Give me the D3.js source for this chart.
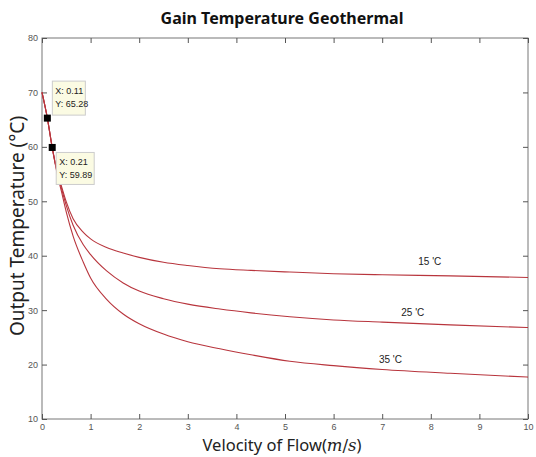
<!DOCTYPE html>
<html>
<head>
<meta charset="utf-8">
<script src="https://cdn.jsdelivr.net/npm/d3@7"></script>
<style>
  body { margin: 0; background: #fff; }
  .tick text { font-family: "Liberation Sans", Arial, sans-serif; font-size: 9px; fill: #555; }
</style>
</head>
<body>
<script>
// velocity of flow (m/s)
var velocity = [0, 0.11, 0.21, 0.3, 0.4, 0.5, 0.64, 0.85, 1.0, 1.33, 1.67, 2.0, 2.5, 3.0, 3.66, 4.3, 5.1, 6.0, 7.0, 8.4, 10];
// output temperature for each ground temperature
var temp15 = [70, 65.28, 59.89, 55.9, 52.8, 49.9, 46.8, 44.3, 43.1, 41.5, 40.5, 39.7, 38.8, 38.2, 37.6, 37.3, 37.0, 36.7, 36.5, 36.3, 36.0];
var temp25 = [70, 65.28, 59.89, 55.8, 52.4, 49.2, 45.6, 42.0, 40.2, 37.2, 35.0, 33.5, 32.1, 31.1, 30.2, 29.5, 28.8, 28.2, 27.8, 27.3, 26.8];
var temp35 = [70, 65.28, 59.89, 55.6, 51.8, 48.0, 43.6, 38.8, 35.9, 32.0, 29.3, 27.5, 25.6, 24.2, 22.9, 21.8, 20.6, 19.8, 19.1, 18.4, 17.7];
var seriesNames = ["15 'C", "25 'C", "35 'C"];
var labelPos = [[7.98, 38.3], [7.63, 28.9], [7.17, 20.3]];
var xTicks = [0,1,2,3,4,5,6,7,8,9,10];
var yTicks = [10,20,30,40,50,60,70,80];
// data tips
var tips = [{x:0.11, y:65.28}, {x:0.21, y:59.89}];

var W = 536, H = 457;
var mLeft = 42, mRight = 528, mTop = 38, mBottom = 419;

var svg = d3.select('body').append('svg').attr('width', W).attr('height', H);

var xScale = d3.scaleLinear().domain([0, 10]).range([mLeft, mRight]);
var yScale = d3.scaleLinear().domain([10, 80]).range([mBottom, mTop]);

// frame
svg.append('rect').attr('x', mLeft).attr('y', mTop)
  .attr('width', mRight - mLeft).attr('height', mBottom - mTop)
  .attr('fill', 'none').attr('stroke', '#777').attr('stroke-width', 1);

// axes, ticks inward, MATLAB style box
var xAxis = d3.axisBottom(xScale).tickValues(xTicks).tickSize(-5).tickPadding(5);
var yAxis = d3.axisLeft(yScale).tickValues(yTicks).tickSize(-5).tickPadding(4);
var gx = svg.append('g').attr('transform', 'translate(0,' + mBottom + ')').call(xAxis);
var gy = svg.append('g').attr('transform', 'translate(' + mLeft + ',0)').call(yAxis);
var gxt = svg.append('g').attr('transform', 'translate(0,' + mTop + ')')
  .call(d3.axisTop(xScale).tickValues(xTicks).tickSize(-5).tickFormat(''));
var gyr = svg.append('g').attr('transform', 'translate(' + mRight + ',0)')
  .call(d3.axisRight(yScale).tickValues(yTicks).tickSize(-5).tickFormat(''));
[gx, gy, gxt, gyr].forEach(function(g){
  g.select('.domain').remove();
  g.selectAll('.tick line').attr('stroke', '#555');
});

// curves
var line = d3.line().curve(d3.curveMonotoneX)
  .x(function(d){ return xScale(d[0]); })
  .y(function(d){ return yScale(d[1]); });
[temp15, temp25, temp35].forEach(function(s, i){
  var pts = velocity.map(function(v, j){ return [v, s[j]]; });
  svg.append('path').datum(pts).attr('d', line)
    .attr('fill', 'none').attr('stroke', '#b8353d').attr('stroke-width', 1.1);
  svg.append('text').attr('x', xScale(labelPos[i][0])).attr('y', yScale(labelPos[i][1]))
    .attr('text-anchor', 'middle')
    .style('font-family', '"Liberation Sans", Arial, sans-serif').style('font-size', '10px')
    .attr('fill', '#222').text(seriesNames[i]);
});

// data tips
var tipOff = [{dx: 5, dy: -37, w: 33, h: 34}, {dx: 4, dy: 5, w: 38, h: 32}];
tips.forEach(function(t, i){
  var px = xScale(t.x), py = yScale(t.y), o = tipOff[i];
  var g = svg.append('g').attr('transform', 'translate(' + (px + o.dx) + ',' + (py + o.dy) + ')');
  g.append('rect').attr('width', o.w).attr('height', o.h)
    .attr('fill', '#fbfbe3').attr('stroke', '#ccc').attr('stroke-width', 1);
  g.append('text').attr('x', 3).attr('y', 13).text('X: ' + t.x);
  g.append('text').attr('x', 3).attr('y', 26).text('Y: ' + t.y);
  g.selectAll('text').style('font-family', '"Liberation Sans", Arial, sans-serif')
    .style('font-size', '9px').attr('fill', '#222');
  svg.append('rect').attr('x', px - 3.5).attr('y', py - 3.5)
    .attr('width', 7).attr('height', 7).attr('fill', '#000');
});

// title and axis labels
svg.append('text').attr('x', 282).attr('y', 24).attr('text-anchor', 'middle')
  .style('font-family', '"Noto Sans", "Open Sans", sans-serif').style('font-size', '16px')
  .style('font-weight', 'bold').attr('fill', '#111').text('Gain Temperature Geothermal');

var xl = svg.append('text').attr('x', 282).attr('y', 451).attr('text-anchor', 'middle')
  .style('font-family', '"Noto Sans", "Open Sans", sans-serif').style('font-size', '16.5px')
  .attr('fill', '#222');
xl.append('tspan').text('Velocity of Flow(');
xl.append('tspan').style('font-family', '"DejaVu Serif", serif').style('font-style', 'italic').text('m');
xl.append('tspan').style('font-family', '"DejaVu Serif", serif').text('/');
xl.append('tspan').style('font-family', '"DejaVu Serif", serif').style('font-style', 'italic').text('s');
xl.append('tspan').text(')');

svg.append('text').attr('transform', 'translate(24,' + 226 + ') rotate(-90)')
  .attr('text-anchor', 'middle')
  .style('font-family', '"Noto Sans", "Open Sans", sans-serif').style('font-size', '19px')
  .attr('fill', '#222').text('Output Temperature (°C)');
</script>
</body>
</html>
